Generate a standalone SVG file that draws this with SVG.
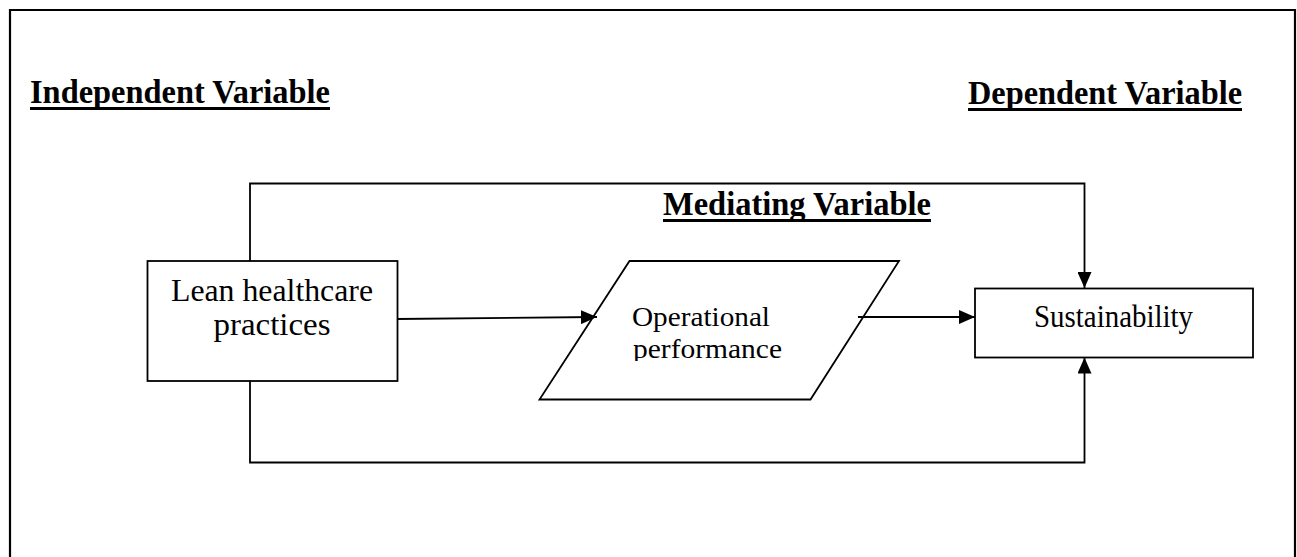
<svg xmlns="http://www.w3.org/2000/svg" width="1297" height="557" viewBox="0 0 1297 557">
<style>
.ln{fill:none;stroke:#000;stroke-width:1.8}
.box{fill:#fff;stroke:#000;stroke-width:1.8}
.hd{font-family:"Liberation Serif",serif;font-weight:bold;font-size:34px;fill:#000}
.tx{font-family:"Liberation Serif",serif;font-size:31px;fill:#000}
.op{font-family:"Liberation Serif",serif;font-size:28px;fill:#000}
.ul{fill:#000}
</style>
<defs>
<marker id="ah" viewBox="0 0 16 14" refX="16" refY="7" markerWidth="16" markerHeight="14" markerUnits="userSpaceOnUse" orient="auto">
<path d="M0,0 L16,7 L0,14 Z" fill="#000"/>
</marker>
<clipPath id="opclip"><rect x="540" y="260" width="360" height="101"/></clipPath>
</defs>
<rect width="1297" height="557" fill="#fff"/>
<path d="M10,557 L10,10 L1295,10 L1295,557" fill="none" stroke="#000" stroke-width="2.2"/>
<g id="headings">
<text class="hd" x="30" y="103" textLength="300" lengthAdjust="spacingAndGlyphs">Independent Variable</text>
<rect class="ul" x="30" y="107" width="300" height="3"/>
<text class="hd" x="968" y="104" textLength="274" lengthAdjust="spacingAndGlyphs">Dependent Variable</text>
<rect class="ul" x="968" y="108" width="274" height="3"/>
<text class="hd" x="663" y="215" textLength="268" lengthAdjust="spacingAndGlyphs">Mediating Variable</text>
<rect class="ul" x="663" y="219" width="268" height="3"/>
</g>
<g id="connectors">
<path class="ln" d="M250,261 L250,183.5 L1084.5,183.5 L1084.5,288" marker-end="url(#ah)"/>
<path class="ln" d="M250,381 L250,462.5 L1084.5,462.5 L1084.5,357.5" marker-end="url(#ah)"/>
<path class="ln" d="M397,319 L597,317" marker-end="url(#ah)"/>
<path class="ln" d="M858,317 L975,317" marker-end="url(#ah)"/>
</g>
<g id="lean">
<rect class="box" x="147.5" y="261" width="250" height="120"/>
<text class="tx" x="272" y="301" text-anchor="middle" textLength="202" lengthAdjust="spacingAndGlyphs">Lean healthcare</text>
<text class="tx" x="272" y="335" text-anchor="middle" textLength="117" lengthAdjust="spacingAndGlyphs">practices</text>
</g>
<g id="operational">
<path class="ln" d="M629.5,261 L899,261 L810.5,399.5 L539.5,399.5 Z"/>
<text class="op" x="632" y="326" textLength="138" lengthAdjust="spacingAndGlyphs">Operational</text>
<text class="op" x="633" y="358" textLength="149" lengthAdjust="spacingAndGlyphs" clip-path="url(#opclip)">performance</text>
</g>
<g id="sustainability">
<rect class="box" x="975" y="288.5" width="278" height="69"/>
<text class="tx" x="1034" y="327" textLength="159" lengthAdjust="spacingAndGlyphs">Sustainability</text>
</g>
</svg>
